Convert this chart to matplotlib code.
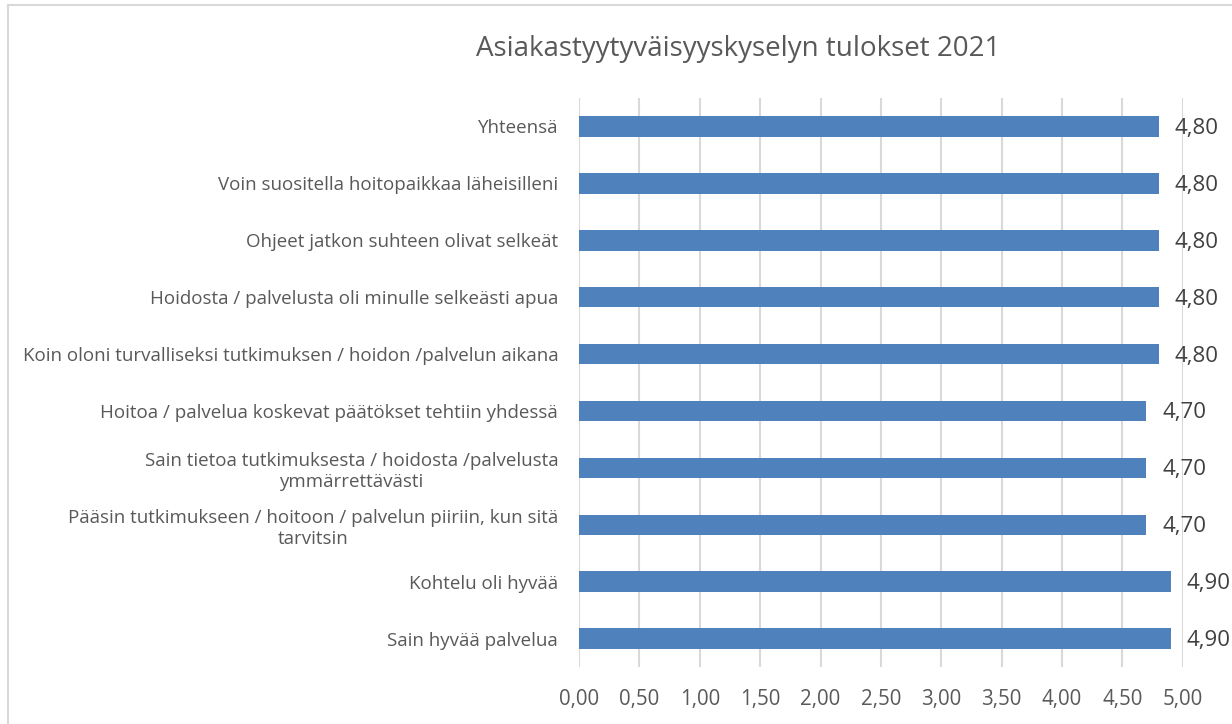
import matplotlib
matplotlib.use("Agg")
import matplotlib.pyplot as plt
from matplotlib.lines import Line2D

# categories from bottom to top
categories = [
    "Sain hyvää palvelua",
    "Kohtelu oli hyvää",
    "Pääsin tutkimukseen / hoitoon / palvelun piiriin, kun sitä\ntarvitsin",
    "Sain tietoa tutkimuksesta / hoidosta /palvelusta\nymmärrettävästi",
    "Hoitoa / palvelua koskevat päätökset tehtiin yhdessä",
    "Koin oloni turvalliseksi tutkimuksen / hoidon /palvelun aikana",
    "Hoidosta / palvelusta oli minulle selkeästi apua",
    "Ohjeet jatkon suhteen olivat selkeät",
    "Voin suositella hoitopaikkaa läheisilleni",
    "Yhteensä",
]
values = [4.90, 4.90, 4.70, 4.70, 4.70, 4.80, 4.80, 4.80, 4.80, 4.80]
xticks = [0, 0.5, 1, 1.5, 2, 2.5, 3, 3.5, 4, 4.5, 5]

plt.rcParams['font.family'] = ['Open Sans', 'DejaVu Sans']

fig = plt.figure(figsize=(12.32, 7.24), dpi=100)
ax = fig.add_axes([0.470, 0.0787, 0.490, 0.7859])

ypos = list(range(len(categories)))
ax.barh(ypos, values, height=0.36, color='#4F81BD', zorder=3)

ax.set_xlim(0, 5)
ax.set_ylim(-0.5, len(categories) - 0.5)
ax.set_xticks(xticks)
ax.set_xticklabels([f"{t:.2f}".replace('.', ',') for t in xticks],
                   fontsize=14.8, color='#595959')
ax.set_yticks(ypos)
ax.set_yticklabels(categories, fontsize=13.5, color='#595959',
                   multialignment='center', linespacing=1.2)
ax.tick_params(axis='both', length=0)
ax.tick_params(axis='y', pad=15)
ax.tick_params(axis='x', pad=16)
ax.grid(axis='x', color='#D9D9D9', linewidth=1.5, zorder=0)
for s in ax.spines.values():
    s.set_visible(False)

for y, v in zip(ypos, values):
    ax.annotate(f"{v:.2f}".replace('.', ','), (v, y), xytext=(16, -2),
                textcoords='offset pixels', va='center', ha='left',
                fontsize=16, color='#404040')

fig.text(0.599, 0.933, "Asiakastyytyväisyyskyselyn tulokset 2021",
         ha='center', va='center', fontsize=20, color='#595959')

# chart frame (top and left edges visible)
fig.add_artist(Line2D([8 / 1232, 8 / 1232], [0, 1 - 5 / 724],
                      transform=fig.transFigure, color='#D9D9D9', lw=1.5))
fig.add_artist(Line2D([8 / 1232, 1], [1 - 5 / 724, 1 - 5 / 724],
                      transform=fig.transFigure, color='#D9D9D9', lw=1.5))

fig.savefig("out.png", dpi=100)
